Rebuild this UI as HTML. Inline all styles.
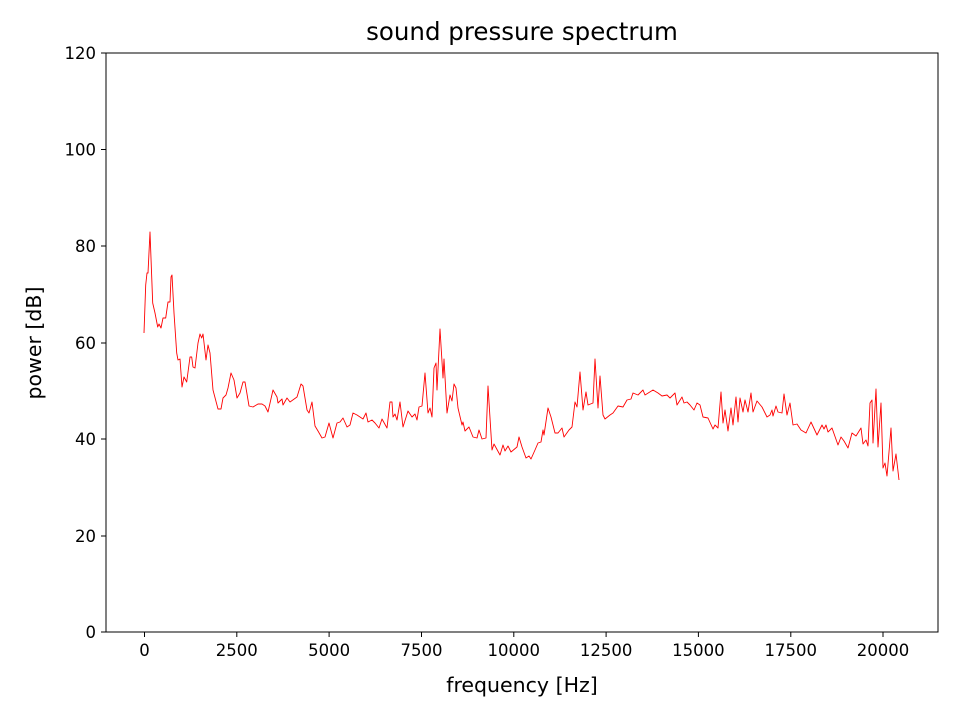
<!DOCTYPE html>
<html><head><style>body{margin:0;background:#fff}svg{display:block}text{font-family:"DejaVu Sans","Liberation Sans",sans-serif;fill:#000}</style></head>
<body>
<svg width="960" height="720" xmlns="http://www.w3.org/2000/svg">
<rect width="960" height="720" fill="#fff"/>
<text x="522" y="40" font-size="24.5" text-anchor="middle">sound pressure spectrum</text>
<g stroke="#000" stroke-width="1">
<line x1="106" y1="632" x2="101" y2="632"/><line x1="106" y1="536" x2="101" y2="536"/><line x1="106" y1="439" x2="101" y2="439"/><line x1="106" y1="343" x2="101" y2="343"/><line x1="106" y1="246" x2="101" y2="246"/><line x1="106" y1="149.5" x2="101" y2="149.5"/><line x1="106" y1="53" x2="101" y2="53"/>
<line x1="144.5" y1="632" x2="144.5" y2="637"/><line x1="236.8" y1="632" x2="236.8" y2="637"/><line x1="329.1" y1="632" x2="329.1" y2="637"/><line x1="421.5" y1="632" x2="421.5" y2="637"/><line x1="513.8" y1="632" x2="513.8" y2="637"/><line x1="606.1" y1="632" x2="606.1" y2="637"/><line x1="698.4" y1="632" x2="698.4" y2="637"/><line x1="790.8" y1="632" x2="790.8" y2="637"/><line x1="883" y1="632" x2="883" y2="637"/>
</g>
<g font-size="16.5" text-anchor="end">
<text x="96" y="638">0</text><text x="96" y="542">20</text><text x="96" y="445">40</text><text x="96" y="349">60</text><text x="96" y="252">80</text><text x="96" y="155.5">100</text><text x="96" y="59">120</text>
</g>
<g font-size="16.5" text-anchor="middle">
<text x="144.5" y="656">0</text><text x="236.8" y="656">2500</text><text x="329.1" y="656">5000</text><text x="421.5" y="656">7500</text><text x="513.8" y="656">10000</text><text x="606.1" y="656">12500</text><text x="698.4" y="656">15000</text><text x="790.8" y="656">17500</text><text x="883" y="656">20000</text>
</g>
<text x="522" y="692" font-size="20.5" text-anchor="middle">frequency [Hz]</text>
<text transform="translate(41,343) rotate(-90)" font-size="20.5" text-anchor="middle">power [dB]</text>
<polyline fill="none" stroke="#f00" stroke-width="0.9" stroke-linejoin="round" points="144,333 145.7,285 147,273 148,273 150,232 152.7,303 155,313 157.7,327 159,324 161,328 163,318 165.7,318 168,302 170,302 171,277 172,275 174,313 176.7,353 178,360 180,359 182,387 184,377 186.7,382 190,357 191.7,357 193,367 195,368 198,343 200,334 201.7,338 203,334 206,360 208,345 210,353 213,390 218,409 221,409 223,398 226,395 228,388 231,373 234,380 237,398 240,393 243,382 245,382 249,406 253,407 258,404 262,404 265,406 268,412 273,390 277,397 278,403 282,399 283,405 287,398 290,402 297,397 301,384 303,386 307,410 309,413 312,402 315,426 318,431 322,438 325,437 329,423 333,438 337,423 340,422 343,418 347,427 350,425 353,413 357,415 360,417 363,419 366,413 368,422 372,420 375,423 379,428 382,419 387,428 390,402 392,402 393,417 395,414 397,420 400,402 403,427 408,411 412,417 415,414 417,420 419,407 422,406 425,373 428,413 430,408 432,417 434,368 436,363 437,390 440,329 443,378 444,359 447,413 450,395 452,401 454,384 456,388 458,408 462,425 463,422 465,431 469,427 473,437 477,438 479,430 482,439 486,438 488,386 492,450 494,444 500,455 503,445 505,451 508,446 511,452 517,447 519,437 522,447 526,458 529,456 531,459 535,450 538,443 541,442 543,430 544,435 548,408 551,417 555,433 558,433 562,428 564,437 569,430 572,427 575,402 577,407 580,372 583,410 586,392 588,405 593,403 595,359 598,408 600,376 603,415 605,419 610,415 613,413 618,406 623,407 627,400 631,399 633,393 638,395 643,390 645,395 653,390 658,393 662,396 667,395 670,398 675,393 677,405 682,397 684,403 687,402 690,405 694,410 697,403 700,405 703,417 708,418 713,429 715,425 718,428 721,392 723,423 725,410 728,431 731,408 733,425 736,397 738,422 740,398 743,412 745,400 748,412 751,393 753,412 757,401 762,407 767,417 770,415 772,410 773,416 776,406 778,412 782,413 784,394 787,415 790,403 793,425 797,424 801,430 806,433 811,422 817,435 822,425 824,429 826,425 828,432 832,428 838,445 841,437 844,441 848,448 852,433 856,436 861,428 863,444 866,440 868,446 870,403 872,400 873,443 876,389 878,447 881,403 883,468 885,463 887,476 891,428 893,471 896,454 899,480"/>
<rect x="106" y="53" width="832" height="579" fill="none" stroke="#000" stroke-width="1"/>
</svg>
</body></html>
